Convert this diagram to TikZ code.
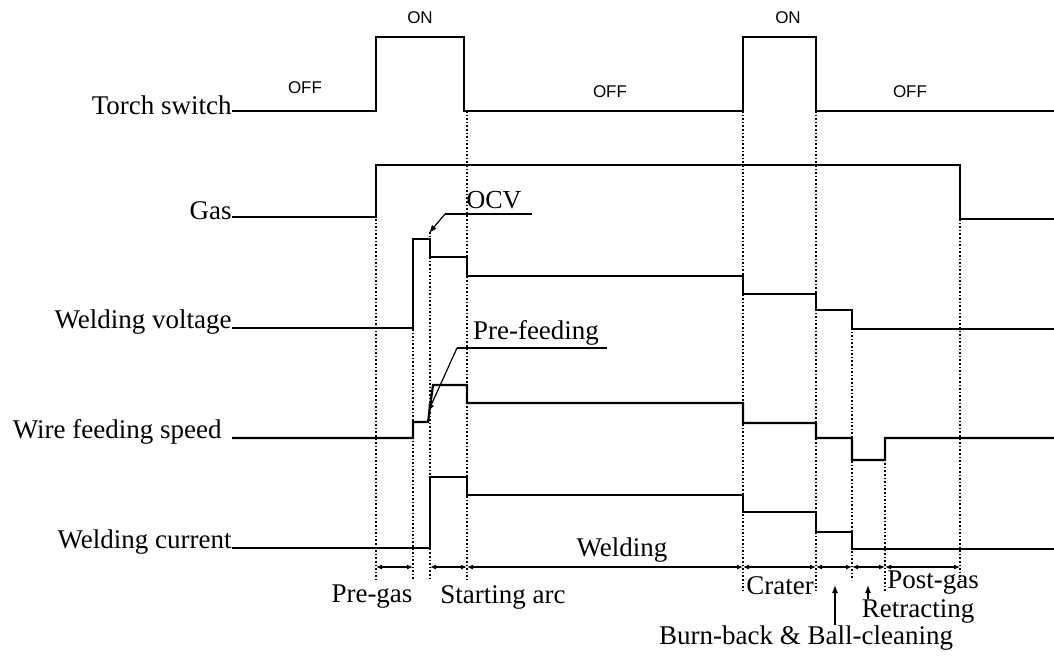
\documentclass[tikz,border=0pt]{standalone}
\usepackage{fontspec}
\setmainfont{Liberation Serif}
\newfontfamily\sansf{Liberation Sans}
\usetikzlibrary{arrows.meta}
\begin{document}
\begin{tikzpicture}[x=0.5pt,y=-0.5pt,
  wave/.style={line width=1.1pt,line join=miter},
  marker/.style={line width=0.6pt,dash pattern=on 0.8pt off 1pt},
  lbl/.style={font=\fontsize{13.5}{15}\selectfont,inner sep=0pt},
  onoff/.style={font=\sansf\fontsize{8.5}{10}\selectfont,inner sep=0pt},
  dim/.style={line width=0.6pt,{Latex[length=3pt,width=2.5pt]}-{Latex[length=3pt,width=2.5pt]}},
  lead/.style={line width=0.6pt,-{Latex[length=4pt,width=3pt]}}]
\useasboundingbox (0,0) rectangle (1054,655);
% signal names
\node[lbl,anchor=east] (ts) at (232,105) {Torch switch};
\node[lbl,anchor=east] (gas) at (232,211) {Gas};
\node[lbl,anchor=east] (wv) at (232,322) {Welding voltage};
\node[lbl,anchor=east] (wf) at (222,432) {Wire feeding speed};
\node[lbl,anchor=east] (wc) at (232,542) {Welding current};
% ON / OFF
\node[onoff] (off1) at (305,88) {OFF};
\node[onoff] (on1) at (420,18) {ON};
\node[onoff] (off2) at (610,92) {OFF};
\node[onoff] (on2) at (788,18) {ON};
\node[onoff] (off3) at (910,92) {OFF};
% time markers
\draw[marker] (376,165) -- (376,580);
\draw[marker] (413,239) -- (413,580);
\draw[marker] (430,232) -- (430,580);
\draw[marker] (467,111) -- (467,580);
\draw[marker] (743,111) -- (743,592);
\draw[marker] (816,111) -- (816,592);
\draw[marker] (852,310) -- (852,580);
\draw[marker] (885,438) -- (885,592);
\draw[marker] (960,165) -- (960,580);
% waveforms
\draw[wave] (232,111) -- (376,111) -- (376,37) -- (464,37) -- (464,111) -- (743,111) -- (743,37) -- (816,37) -- (816,111) -- (1054,111);
\draw[wave] (232,217) -- (376,217) -- (376,165) -- (960,165) -- (960,219) -- (1054,219);
\draw[wave] (232,328) -- (413,328) -- (413,239) -- (430,239) -- (430,257) -- (467,257) -- (467,276) -- (743,276) -- (743,294) -- (816,294) -- (816,310) -- (852,310) -- (852,329) -- (1054,329);
\draw[wave] (232,438) -- (413,438) -- (413,422) -- (428,422) -- (433,385) -- (467,385) -- (467,403) -- (743,403) -- (743,423) -- (816,423) -- (816,438) -- (852,438) -- (852,460) -- (885,460) -- (885,438) -- (1054,438);
\draw[wave] (232,548) -- (430,548) -- (430,477) -- (467,477) -- (467,495) -- (743,495) -- (743,512) -- (816,512) -- (816,532) -- (852,532) -- (852,549) -- (1054,549);
% annotations
\node[lbl,font=\fontsize{13}{14}\selectfont] (ocv) at (494,200) {OCV};
\coordinate (ocvA) at (445,214);
\draw[line width=0.6pt] (ocvA) -- (532,214);
\coordinate (ocvT) at (429,233);
\draw[lead] (ocvA) -- (ocvT);
\node[lbl] (pf) at (536,333) {Pre-feeding};
\coordinate (pfA) at (457,348);
\draw[line width=0.6pt] (pfA) -- (607,348);
\coordinate (pfT) at (428,412);
\draw[lead] (pfA) -- (pfT);
% intervals
\draw[dim] (376,567) -- (413,567);
\draw[dim] (430,567) -- (467,567);
\draw[dim] (467,567) -- (743,567);
\draw[dim] (743,567) -- (816,567);
\draw[dim] (816,567) -- (852,567);
\draw[dim] (852,567) -- (885,567);
\draw[dim] (885,567) -- (960,567);
\node[lbl] (pg) at (372,597) {Pre-gas};
\node[lbl] (sa) at (503,597) {Starting arc};
\node[lbl] (wl) at (622,550) {Welding};
\node[lbl] (cr) at (780,586) {Crater};
\node[lbl] (pst) at (933,583) {Post-gas};
\node[lbl] (rt) at (918,611) {Retracting};
\node[lbl] (bb) at (806,638) {Burn-back \& Ball-cleaning};
\coordinate (bbT) at (835,585);
\draw[lead] (bb.north -| bbT) -- (bbT);
\coordinate (rtT) at (868,585);
\draw[lead] (rt.north -| rtT) -- (rtT);
\end{tikzpicture}
\end{document}
